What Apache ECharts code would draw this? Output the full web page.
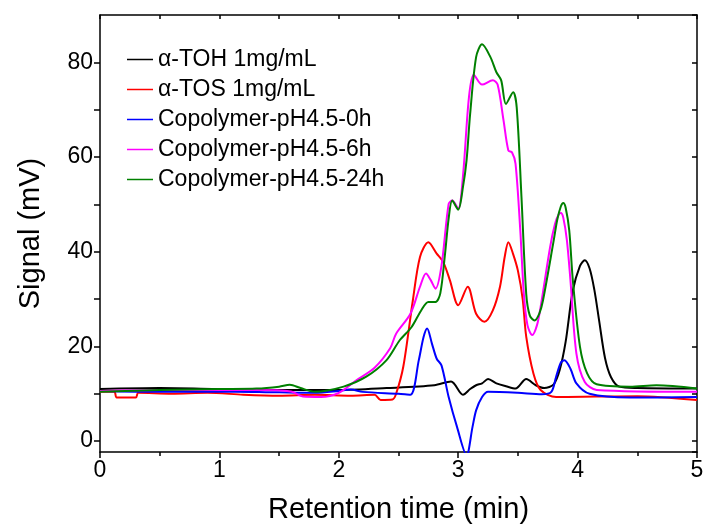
<!DOCTYPE html>
<html>
<head>
<meta charset="utf-8">
<script src="https://cdn.jsdelivr.net/npm/echarts@6/dist/echarts.min.js"></script>
<style>
  html, body { margin: 0; padding: 0; background: #fff; }
  #chart { width: 707px; height: 529px; }
</style>
</head>
<body>
<div id="chart"></div>
<script>
// series names (legend order)
var seriesNames = ['α-TOH 1mg/mL', 'α-TOS 1mg/mL', 'Copolymer-pH4.5-0h', 'Copolymer-pH4.5-6h', 'Copolymer-pH4.5-24h']
var seriesColors = ['#000000', '#ff0000', '#0000ff', '#ff00ff', '#008000']

// [retention time (min), signal (mV)]
var tohData = [[0, 11], [0.5, 11.2], [1, 11], [1.5, 10.8], [2, 10.8], [2.4, 11.2], [2.8, 11.8], [2.94, 12.6], [3.04, 9.8],
  [3.1, 11], [3.15, 11.8], [3.2, 12.2], [3.25, 13.1], [3.32, 12.2], [3.4, 11.6], [3.48, 11.1], [3.57, 13.1], [3.65, 11.8],
  [3.72, 11.2], [3.8, 12], [3.85, 15], [3.9, 21], [3.96, 31.8], [4.02, 37], [4.06, 38.2], [4.1, 36.5], [4.14, 32],
  [4.18, 25.5], [4.23, 17.5], [4.28, 13.5], [4.35, 11.5], [4.5, 11.2], [5, 11.1]]

var tosData = [[0, 10.4], [0.12, 10.4], [0.14, 9.2], [0.3, 9.2], [0.32, 10.2], [0.6, 10], [0.9, 10.2], [1.2, 9.8], [1.5, 9.6],
  [1.8, 9.8], [2.1, 9.6], [2.3, 9.8], [2.35, 8.7], [2.45, 8.8], [2.48, 10], [2.54, 15.7], [2.62, 29.7], [2.68, 38.9],
  [2.75, 42], [2.82, 39.6], [2.875, 37.8], [2.93, 34], [3, 28.7], [3.08, 32.6], [3.15, 26.9], [3.22, 25.2], [3.29, 27.6],
  [3.35, 32.6], [3.39, 39], [3.42, 42], [3.46, 39.5], [3.5, 36], [3.54, 30], [3.57, 22], [3.63, 14.3], [3.69, 10.8],
  [3.82, 9.3], [4.5, 9.5], [5, 8.7]]

var h0Data = [[0, 10.6], [0.5, 10.4], [1, 10.5], [1.5, 10.3], [1.8, 10.2], [2, 10.6], [2.1, 10.9], [2.2, 10.4], [2.5, 10],
  [2.6, 9.8], [2.67, 17.1], [2.71, 22], [2.74, 23.8], [2.78, 20.6], [2.82, 17.4], [2.86, 16], [2.92, 9.3], [2.99, 3],
  [3.07, -3], [3.12, 3], [3.15, 6.5], [3.2, 9.3], [3.25, 10.4], [3.5, 10.2], [3.7, 9.9], [3.78, 10.4], [3.82, 13.6],
  [3.86, 16.6], [3.89, 17.1], [3.94, 15.3], [3.99, 12.2], [4.1, 10], [4.44, 9.2], [5, 9.3]]

var h6Data = [[0, 10.6], [0.5, 10.8], [1, 10.8], [1.3, 10.8], [1.6, 10.5], [1.7, 9.4], [1.85, 9.3], [2, 10.2], [2.15, 12.9],
  [2.3, 15.5], [2.43, 19.6], [2.48, 22.7], [2.6, 26.9], [2.68, 32.6], [2.73, 35.4], [2.77, 34], [2.81, 32.2], [2.86, 37],
  [2.92, 50.1], [2.95, 50.8], [3, 49.1], [3.04, 56], [3.09, 72.6], [3.13, 77.4], [3.2, 75.3], [3.29, 76.2], [3.33, 75.3],
  [3.38, 67.7], [3.42, 61.4], [3.45, 61], [3.48, 58.6], [3.52, 44.5], [3.55, 31], [3.58, 24.5], [3.62, 22.4], [3.66, 24.5],
  [3.69, 28.3], [3.77, 41], [3.81, 45.8], [3.84, 47.8], [3.86, 48.2], [3.88, 47.2], [3.91, 42.5], [3.94, 34], [3.99, 18.5],
  [4.06, 12.5], [4.16, 10.8], [5, 10.4]]

var h24Data = [[0, 10.4], [0.5, 10.8], [1, 11], [1.31, 11.1], [1.5, 11.5], [1.59, 11.9], [1.68, 11.2], [1.8, 10.4], [2.04, 11.5],
  [2.23, 13.6], [2.4, 17.1], [2.51, 21.3], [2.61, 24.1], [2.69, 27.6], [2.75, 29.4], [2.81, 29.4], [2.85, 31.2], [2.89, 39.6],
  [2.92, 47], [2.95, 50.8], [3, 48.9], [3.04, 53.7], [3.07, 59.3], [3.1, 69.1], [3.15, 81.1], [3.2, 83.8], [3.27, 81.1],
  [3.32, 77.9], [3.36, 76.2], [3.4, 71.2], [3.46, 73.7], [3.49, 70.5], [3.53, 51.5], [3.57, 31], [3.6, 26.5], [3.64, 25.5],
  [3.68, 27], [3.71, 29.7], [3.8, 42.4], [3.83, 46.8], [3.86, 49.6], [3.88, 50.3], [3.9, 49.3], [3.93, 44.5], [3.96, 34],
  [4.02, 19.9], [4.08, 14.3], [4.16, 12], [4.44, 11.5], [4.66, 11.8], [5, 11.1]]

var allData = [tohData, tosData, h0Data, h6Data, h24Data]

var font = 'Arial, "Liberation Sans", sans-serif'
var chart = echarts.init(document.getElementById('chart'))

var axisLine = { show: true, onZero: false, lineStyle: { color: '#000', width: 1.5 } }

chart.setOption({
  animation: false,
  grid: {
    left: 100,
    right: 10,
    top: 15,
    bottom: 77
  },
  legend: {
    orient: 'vertical',
    left: 122,
    top: 43,
    icon: 'rect',
    itemWidth: 26,
    itemHeight: 1.5,
    itemGap: 7,
    textStyle: { fontFamily: font, fontSize: 23, color: '#000', lineHeight: 23 },
    data: seriesNames
  },
  xAxis: [{
    type: 'value',
    min: 0,
    max: 5,
    interval: 1,
    name: 'Retention time (min)',
    nameLocation: 'middle',
    nameGap: 43,
    nameTextStyle: { fontFamily: font, fontSize: 29, color: '#000' },
    axisLine: axisLine,
    axisTick: { show: true, length: 6, lineStyle: { color: '#000', width: 1.5 } },
    minorTick: { show: true, splitNumber: 2, length: 4, lineStyle: { color: '#000', width: 1.5 } },
    axisLabel: { fontFamily: font, fontSize: 23, color: '#000', margin: 7 },
    splitLine: { show: false }
  }, {
    type: 'value',
    position: 'top',
    min: 0,
    max: 5,
    interval: 0.5,
    axisLine: axisLine,
    axisTick: { show: true, inside: true, length: 4, lineStyle: { color: '#000', width: 1.5 } },
    axisLabel: { show: false },
    splitLine: { show: false }
  }],
  yAxis: [{
    type: 'value',
    min: -2.3,
    max: 90,
    splitNumber: 9,
    name: 'Signal (mV)',
    nameLocation: 'middle',
    nameGap: 55,
    nameTextStyle: { fontFamily: font, fontSize: 29, color: '#000' },
    axisLine: axisLine,
    axisTick: { show: true, length: 6, lineStyle: { color: '#000', width: 1.5 } },
    axisLabel: {
      fontFamily: font,
      fontSize: 23,
      color: '#000',
      margin: 7,
      showMinLabel: false,
      showMaxLabel: false,
      formatter: function(v) {
        return v % 20 === 0 ? String(v) : ''
      }
    },
    splitLine: { show: false }
  }, {
    type: 'value',
    position: 'right',
    min: -2.3,
    max: 90,
    splitNumber: 9,
    axisLine: axisLine,
    axisTick: { show: true, inside: true, length: 5, lineStyle: { color: '#000', width: 1.5 } },
    axisLabel: { show: false },
    splitLine: { show: false }
  }],
  series: seriesNames.map(function(name, i) {
    return {
      name: name,
      type: 'line',
      data: allData[i],
      smooth: 0.3,
      symbol: 'none',
      clip: true,
      itemStyle: { color: seriesColors[i] },
      lineStyle: { color: seriesColors[i], width: 2 }
    }
  })
})
</script>
</body>
</html>
